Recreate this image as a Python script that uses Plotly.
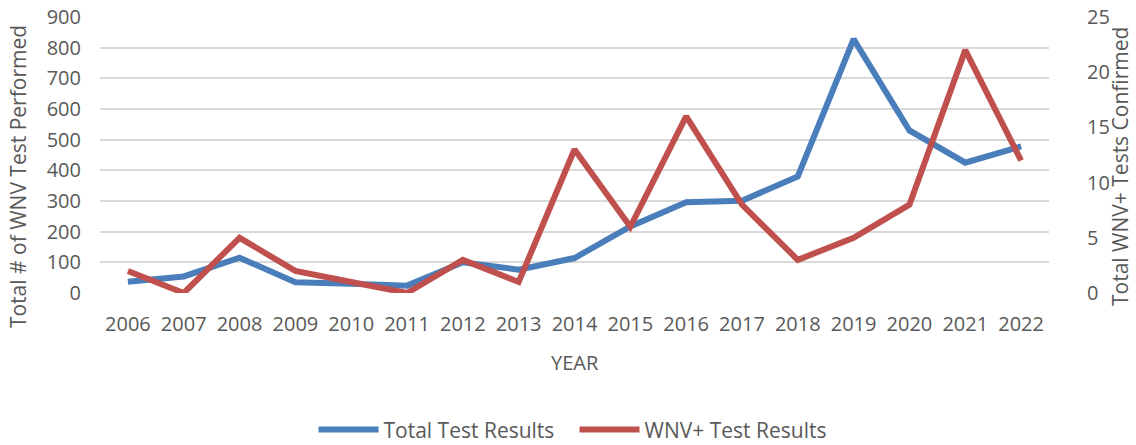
import plotly.graph_objects as go

years = [str(y) for y in range(2006, 2023)]
total_tests = [37, 54, 115, 35, 30, 24, 100, 76, 114, 217, 296, 301, 380, 828, 530, 425, 478]
wnv_positive = [2, 0, 5, 2, 1, 0, 3, 1, 13, 6, 16, 8, 3, 5, 8, 22, 12]

left_ticks = list(range(0, 1000, 100))
right_ticks = list(range(0, 30, 5))

left_title = "Total # of WNV Test Performed"
right_title = "Total WNV+ Tests Confirmed"
x_title = "YEAR"

FONT = "Open Sans"
GREY = "#595959"
TICK_SIZE = 20
TITLE_SIZE = 21

fig = go.Figure()
fig.add_trace(go.Scatter(
    x=years, y=total_tests, name="Total Test Results", mode="lines",
    line=dict(color="#4a7ebb", width=6), yaxis="y"))
fig.add_trace(go.Scatter(
    x=years, y=wnv_positive, name="WNV+ Test Results", mode="lines",
    line=dict(color="#c0504d", width=6), yaxis="y2"))

fig.update_layout(
    width=1136, height=445,
    margin=dict(l=100, r=87, t=17, b=152, autoexpand=False),
    paper_bgcolor="white", plot_bgcolor="white",
    font=dict(family=FONT, color=GREY, size=TICK_SIZE),
    showlegend=True,
    legend=dict(orientation="h", x=0.5, xanchor="center", y=-0.496, yanchor="middle",
                font=dict(size=TITLE_SIZE, color=GREY), traceorder="normal",
                itemwidth=60, entrywidth=186, entrywidthmode="pixels"),
    xaxis=dict(
        type="category", range=[-0.5, 16.5], showgrid=False, zeroline=False,
        showline=False, ticks="", tickfont=dict(size=TICK_SIZE, color=GREY),
        ticklabelstandoff=17, automargin=False),
    yaxis=dict(
        range=[0, 900], tickvals=left_ticks, showgrid=True,
        gridcolor="#d9d9d9", gridwidth=1.5, zeroline=False, showline=False,
        ticks="", tickfont=dict(size=TICK_SIZE, color=GREY),
        ticklabelstandoff=18, automargin=False),
    yaxis2=dict(
        range=[0, 25], tickvals=right_ticks, overlaying="y", side="right",
        showgrid=False, zeroline=False, showline=False,
        ticks="outside", ticklen=33, tickcolor="rgba(0,0,0,0)",
        tickfont=dict(size=TICK_SIZE, color=GREY), automargin=False),
    annotations=[
        dict(text=left_title, xref="paper", yref="paper", x=-0.0864, y=0.42,
             textangle=-90, showarrow=False, xanchor="center", yanchor="middle",
             font=dict(size=TITLE_SIZE, color=GREY)),
        dict(text=right_title, xref="paper", yref="paper", x=1.0748, y=0.46,
             textangle=-90, showarrow=False, xanchor="center", yanchor="middle",
             font=dict(size=TITLE_SIZE, color=GREY)),
        dict(text=x_title, xref="paper", yref="paper", x=0.5, y=-0.25,
             showarrow=False, xanchor="center", yanchor="middle",
             font=dict(size=TICK_SIZE, color=GREY)),
    ],
)

fig.write_html("out.html", config={"displayModeBar": False},
               post_script="document.body.style.margin='0';")
